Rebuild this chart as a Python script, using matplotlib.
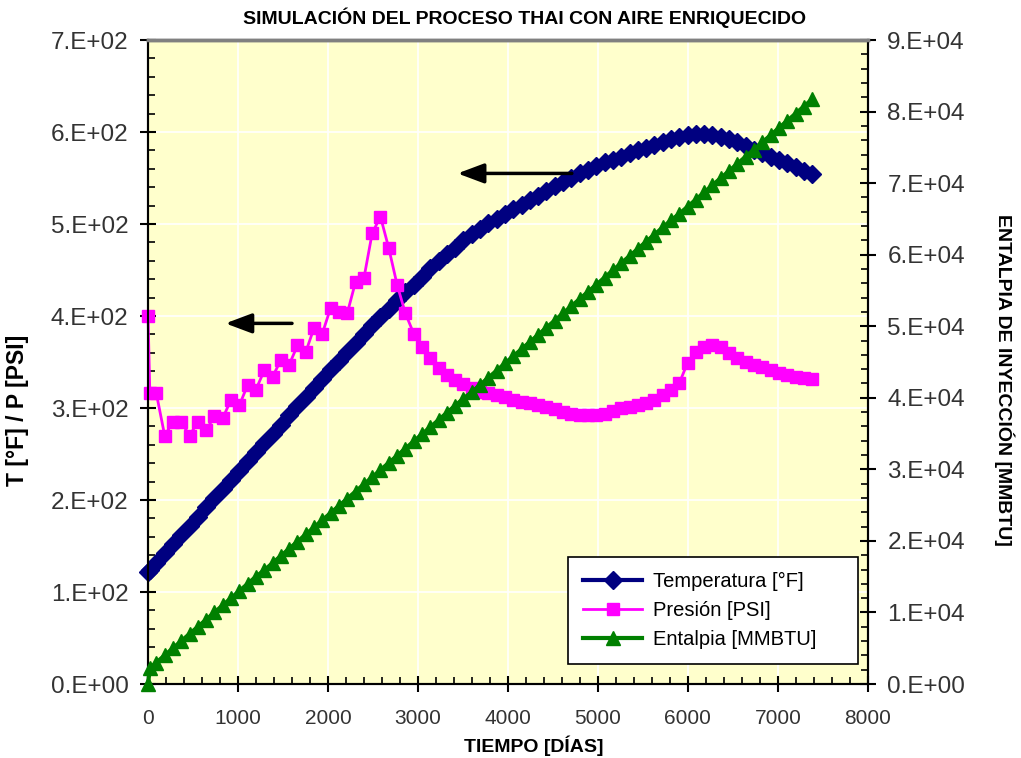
#!/usr/bin/env python3
import numpy as np
import matplotlib
matplotlib.use('Agg')
import matplotlib.pyplot as plt
from matplotlib.ticker import MultipleLocator, FuncFormatter

## Data ##
dias = [0, 20, 92, 185, 277, 369, 461, 554, 646, 738, 830, 923, 1015, 1107, 1199,
        1292, 1384, 1476, 1568, 1661, 1753, 1845, 1937, 2030, 2122, 2214, 2306,
        2399, 2491, 2583, 2675, 2768, 2860, 2952, 3044, 3137, 3229, 3321, 3413,
        3506, 3598, 3690, 3782, 3875, 3967, 4059, 4151, 4244, 4336, 4428, 4520,
        4613, 4705, 4797, 4889, 4982, 5074, 5166, 5258, 5351, 5443, 5535, 5627,
        5720, 5812, 5904, 5996, 6089, 6181, 6273, 6365, 6458, 6550, 6642, 6734,
        6827, 6919, 7011, 7103, 7196, 7288, 7380]

temperatura = [122, 124, 132, 142, 152, 162, 172, 182, 192, 202, 212, 222, 232, 242,
               252, 262, 272, 282, 292, 302, 312, 322, 332, 342, 351, 361, 371, 380,
               390, 399, 408, 417, 426, 434, 442, 452, 460, 467, 474, 483, 489, 495,
               501, 506, 511, 516, 521, 526, 531, 536, 541, 546, 550, 555, 559, 563,
               567, 570, 573, 577, 580, 583, 586, 589, 592, 595, 597, 598, 598, 597,
               595, 592, 589, 585, 581, 577, 573, 570, 566, 562, 558, 554]

presion = [400, 316, 316, 270, 285, 285, 270, 285, 276, 291, 289, 309, 303, 325,
           320, 341, 334, 352, 347, 368, 361, 387, 381, 409, 404, 403, 437, 441,
           490, 508, 474, 434, 403, 381, 366, 354, 343, 336, 330, 326, 322, 317,
           316, 314, 312, 309, 307, 305, 303, 301, 299, 296, 293, 292, 292, 292,
           293, 297, 300, 301, 303, 305, 309, 314, 320, 327, 349, 361, 366, 368,
           366, 360, 354, 350, 347, 345, 341, 338, 336, 334, 333, 332]

entalpia = [0, 2200, 3000, 4000, 5000, 6000, 7000, 8000, 9000, 10000, 11000, 12000,
            13000, 14000, 15000, 15900, 16900, 17900, 18900, 19900, 20900, 21900,
            22900, 23900, 24900, 25900, 26900, 27900, 28900, 29900, 30900, 31900,
            32900, 33900, 34900, 35900, 36900, 37900, 38900, 39900, 40800, 41800,
            42800, 43800, 44800, 45800, 46800, 47800, 48800, 49800, 50800, 51800,
            52800, 53800, 54800, 55800, 56800, 57800, 58800, 59800, 60800, 61800,
            62800, 63800, 64800, 65700, 66700, 67700, 68700, 69700, 70700, 71700,
            72700, 73700, 74700, 75700, 76700, 77700, 78700, 79700, 80700, 81700]

titulo = 'SIMULACIÓN DEL PROCESO THAI CON AIRE ENRIQUECIDO'
plt.rcParams['font.family'] = ['Liberation Sans', 'DejaVu Sans']


def excel_sci(v, pos):
    if abs(v) < 1e-9:
        return '0.E+00'
    e = int(np.floor(np.log10(abs(v)) + 1e-9))
    return '{:.0f}.E+{:02d}'.format(v / 10 ** e, e)


## Setup plot ##
fig = plt.figure(figsize=(10.21, 7.58), dpi=100)
ax1 = fig.add_axes([0.145, 0.0976, 0.705, 0.8496])
ax2 = ax1.twinx()
ax1.set_facecolor('#FFFFCC')
ax2.patch.set_visible(False)

l_t, = ax1.plot(dias, temperatura, color='#000080', lw=3, marker='D', ms=9.5,
                label='Temperatura [°F]', clip_on=False, zorder=3)
l_p, = ax1.plot(dias, presion, color='#FF00FF', lw=2, marker='s', ms=8,
                label='Presión [PSI]', clip_on=False, zorder=4)
l_e, = ax2.plot(dias, entalpia, color='#008000', lw=3, marker='^', ms=10,
                label='Entalpia [MMBTU]', clip_on=False, zorder=3)

ax1.set_xlim(0, 8000)
ax1.set_ylim(0, 700)
ax2.set_ylim(0, 90000)

ax1.xaxis.set_major_locator(MultipleLocator(1000))
ax1.xaxis.set_minor_locator(MultipleLocator(200))
ax1.yaxis.set_major_locator(MultipleLocator(100))
ax1.yaxis.set_minor_locator(MultipleLocator(20))
ax2.yaxis.set_major_locator(MultipleLocator(10000))
ax2.yaxis.set_minor_locator(MultipleLocator(2000))
ax1.yaxis.set_major_formatter(FuncFormatter(excel_sci))
ax2.yaxis.set_major_formatter(FuncFormatter(excel_sci))

for ax in (ax1, ax2):
    ax.tick_params(which='major', direction='inout', length=12, width=1.5,
                   labelsize=17.5, colors='black', pad=8)
    ax.tick_params(which='minor', direction='in', length=5, width=1.2)
    ax.tick_params(axis='y', labelcolor='#333333')
ax1.tick_params(axis='x', labelsize=15, labelcolor='#333333', pad=12)

ax1.grid(True, which='major', color='white', lw=1.2)
ax1.set_axisbelow(True)

for ax in (ax1, ax2):
    for s in ('left', 'right', 'bottom'):
        ax.spines[s].set_linewidth(1.5)
    ax.spines['top'].set_color('#808080')
    ax.spines['top'].set_linewidth(2.5)

ax1.set_xlabel('TIEMPO [DÍAS]', fontsize=14, fontweight='bold')
ax1.xaxis.set_label_coords(0.536, -0.08)
ax1.set_ylabel('T [°F] / P [PSI]', fontsize=16.5, fontweight='bold')
ax1.yaxis.set_label_coords(-0.165, 0.425)
ax2.set_ylabel('ENTALPIA DE INYECCIÓN [MMBTU]', fontsize=14, fontweight='bold',
               rotation=270, va='center')
ax2.yaxis.set_label_coords(1.19, 0.472)
fig.text(0.514, 0.976, titulo, ha='center', va='center', fontsize=14,
         fontweight='bold')

## arrows pointing to the left axis ##
flecha = dict(arrowstyle='-|>,head_length=0.8,head_width=0.3', color='black',
              lw=2.5, mutation_scale=20, shrinkA=0, shrinkB=0)
ax1.annotate('', xy=(3440, 555), xytext=(4710, 555), arrowprops=flecha)
ax1.annotate('', xy=(860, 392), xytext=(1600, 392), arrowprops=flecha)

leg = ax2.legend(handles=[l_t, l_p, l_e], loc='lower left',
                 bbox_to_anchor=(0.583, 0.031, 0.403, 0.168), mode='expand',
                 borderaxespad=0, fancybox=False, framealpha=1, edgecolor='black',
                 handlelength=2.95, handletextpad=0.55, labelspacing=0.5,
                 borderpad=0.75, prop={'size': 14.5})
leg.get_frame().set_linewidth(1.2)

fig.savefig('out.png', dpi=100)
plt.close()
